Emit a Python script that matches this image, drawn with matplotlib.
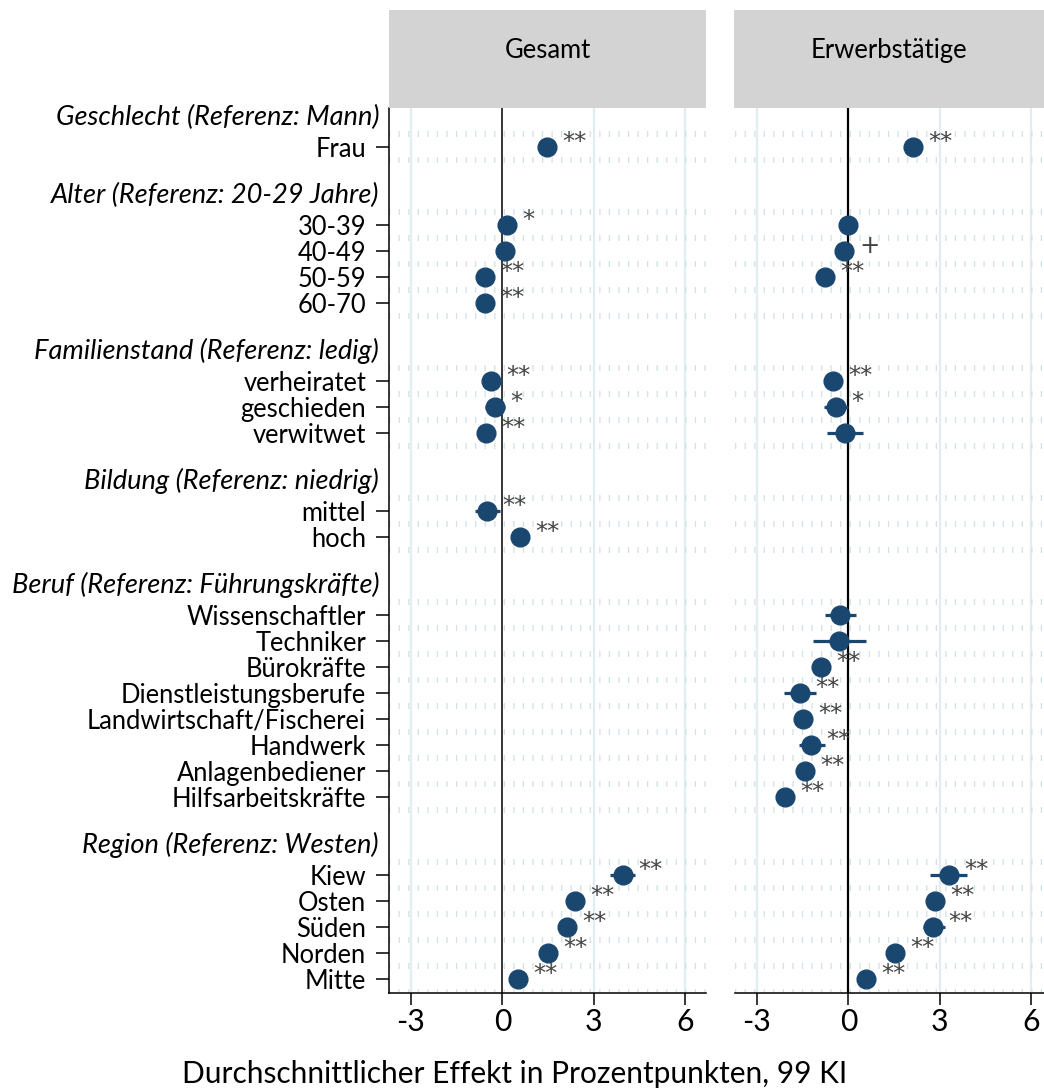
import numpy as np
import matplotlib
matplotlib.use("Agg")
import matplotlib.pyplot as plt
from matplotlib.patches import Rectangle
import matplotlib.transforms as mtransforms

plt.rcParams['font.family'] = ['Lato', 'DejaVu Sans']
plt.rcParams['axes.unicode_minus'] = False

nan = np.nan

# ---------------- data ----------------
panel_titles = ["Gesamt", "Erwerbstätige"]
xlabel = "Durchschnittlicher Effekt in Prozentpunkten, 99 KI"
xticks = [-3, 0, 3, 6]

group_headers = ["Geschlecht (Referenz: Mann)",
                 "Alter (Referenz: 20-29 Jahre)",
                 "Familienstand (Referenz: ledig)",
                 "Bildung (Referenz: niedrig)",
                 "Beruf (Referenz: Führungskräfte)",
                 "Region (Referenz: Westen)"]
group_items = [["Frau"],
               ["30-39", "40-49", "50-59", "60-70"],
               ["verheiratet", "geschieden", "verwitwet"],
               ["mittel", "hoch"],
               ["Wissenschaftler", "Techniker", "Bürokräfte", "Dienstleistungsberufe",
                "Landwirtschaft/Fischerei", "Handwerk", "Anlagenbediener", "Hilfsarbeitskräfte"],
               ["Kiew", "Osten", "Süden", "Norden", "Mitte"]]

gesamt_est = [1.46, 0.15, 0.07, -0.56, -0.56, -0.38, -0.26, -0.55, -0.50, 0.58,
              nan, nan, nan, nan, nan, nan, nan, nan,
              3.95, 2.38, 2.13, 1.49, 0.51]
gesamt_lo = [1.25, -0.10, -0.15, -0.80, -0.80, -0.60, -0.58, -0.80, -0.91, 0.35,
             nan, nan, nan, nan, nan, nan, nan, nan,
             3.54, 2.15, 1.90, 1.27, 0.28]
gesamt_hi = [1.67, 0.40, 0.29, -0.32, -0.32, -0.16, 0.07, -0.30, -0.09, 0.81,
             nan, nan, nan, nan, nan, nan, nan, nan,
             4.36, 2.61, 2.36, 1.71, 0.74]
gesamt_sig = ["**", "*", "", "**", "**", "**", "*", "**", "**", "**",
              "", "", "", "", "", "", "", "",
              "**", "**", "**", "**", "**"]

erwerb_est = [2.11, 0.00, -0.15, -0.77, nan, -0.52, -0.40, -0.11, nan, nan,
              -0.27, -0.31, -0.89, -1.59, -1.50, -1.22, -1.43, -2.07,
              3.29, 2.83, 2.76, 1.51, 0.58]
erwerb_lo = [1.88, -0.22, -0.40, -1.00, nan, -0.75, -0.79, -0.70, nan, nan,
             -0.76, -1.16, -1.12, -2.10, -1.75, -1.63, -1.68, -2.30,
             2.68, 2.60, 2.43, 1.28, 0.35]
erwerb_hi = [2.34, 0.22, 0.10, -0.54, nan, -0.29, 0.00, 0.49, nan, nan,
             0.25, 0.56, -0.66, -1.08, -1.25, -0.78, -1.18, -1.84,
             3.89, 3.06, 3.15, 1.74, 0.81]
erwerb_sig = ["**", "", "+", "**", "", "**", "*", "", "", "",
              "", "", "**", "**", "**", "**", "**", "**",
              "**", "**", "**", "**", "**"]

# ---------------- layout ----------------
W, H = 1044, 1090
fig = plt.figure(figsize=(W / 100, H / 100), dpi=100)
renderer = fig.canvas.get_renderer()


def fit(text, target, style='normal', family=None):
    kw = {} if family is None else {'family': family}
    t = fig.text(0, 0, text, fontsize=20, style=style, **kw)
    w = t.get_window_extent(renderer).width
    t.remove()
    return 20 * target / w


fs_item = fit("Dienstleistungsberufe", 247)
fs_head = fit("Beruf (Referenz: Führungskräfte)", 368, 'italic')
fs_title = fit(xlabel, 667)
fs_panel = fit("Erwerbstätige", 157)
star_family = ['DejaVu Sans']
fs_star = fit("**", 24, family=star_family)
fs_tick = fs_item * 1.18

# row positions
labels, rows, header_rows = [], [], []
r = 1
for hdr, items in zip(group_headers, group_items):
    header_rows.append(r - 1.15)
    for it in items:
        labels.append(it)
        rows.append(r)
        r += 1
    r += 2
rows = np.array(rows, dtype=float)

ax_top, ax_bot = 108, 993
ylim = (33.55, -0.5)
navy = '#1a476f'
grid_v = '#e3edf0'
grid_h = '#d3e2e6'

panels = [
    dict(x0=389, x1=706, xlim=(-3.72, -3.72 + 317 / 30.5),
         est=gesamt_est, lo=gesamt_lo, hi=gesamt_hi, sig=gesamt_sig,
         box=(389, 706)),
    dict(x0=735, x1=1044, xlim=(-3.72, -3.72 + 309 / 30.5),
         est=erwerb_est, lo=erwerb_lo, hi=erwerb_hi, sig=erwerb_sig,
         box=(734, 1044)),
]

axes = []
for i, p in enumerate(panels):
    ax = fig.add_axes([p['x0'] / W, 1 - ax_bot / H, (p['x1'] - p['x0']) / W,
                       (ax_bot - ax_top) / H])
    axes.append(ax)
    ax.set_xlim(*p['xlim'])
    ax.set_ylim(*ylim)
    ax.set_facecolor('white')

    # grid
    for gx in [-3, 3, 6]:
        ax.axvline(gx, color=grid_v, lw=1.6, zorder=0)
    hl = sorted(set(list(rows - 0.5) + list(rows + 0.5)))
    for gy in hl:
        ax.axhline(gy, color=grid_h, lw=4.3, linestyle=(0, (0.22, 1.38)),
                   zorder=0.5)
    ax.axvline(0, color='black', lw=1.1 if i == 0 else 1.6, zorder=1)

    est = np.array(p['est'], dtype=float)
    lo = np.array(p['lo'], dtype=float)
    hi = np.array(p['hi'], dtype=float)
    ok = ~np.isnan(est)
    ax.hlines(rows[ok], lo[ok], hi[ok], color=navy, lw=2.3, zorder=2)
    ax.plot(est[ok], rows[ok], 'o', ms=13.5, color=navy, mec=navy, zorder=3)
    for e, y, s in zip(est, rows, p['sig']):
        if s and not np.isnan(e):
            ax.annotate(s, (e, y), xytext=(11, 3.5), textcoords='offset points',
                        ha='left', va='center', fontsize=fs_star, color='#444444',
                        family=star_family, zorder=4)

    ax.set_xticks(xticks)
    ax.set_xticklabels([str(t) for t in xticks])
    ax.tick_params(axis='x', length=8.6, width=1.1, pad=2, labelsize=fs_tick,
                   colors='black')
    ax.set_yticks(rows)
    for sp in ['top', 'right']:
        ax.spines[sp].set_visible(False)
    ax.spines['bottom'].set_linewidth(1.1)
    if i == 0:
        ax.set_yticklabels(labels)
        ax.tick_params(axis='y', length=9.4, width=1.1, pad=7, labelsize=fs_item)
        ax.spines['left'].set_linewidth(1.1)
    else:
        ax.spines['left'].set_visible(False)
        ax.tick_params(axis='y', left=False, labelleft=False)

    # panel header box
    bx0, bx1 = p['box']
    fig.patches.append(Rectangle((bx0 / W, 1 - 108 / H), (bx1 - bx0) / W, 98 / H,
                                 transform=fig.transFigure, facecolor='#d3d3d3',
                                 edgecolor='none', zorder=0))
    fig.text((bx0 + bx1) / 2 / W, 1 - 58 / H, panel_titles[i], ha='center',
             va='baseline', fontsize=fs_panel, color='black')

# group headers (italic), right aligned left of the axis
trans = mtransforms.blended_transform_factory(fig.transFigure, axes[0].transData)
for hdr, hy in zip(group_headers, header_rows):
    fig.text(379 / W, hy, hdr, transform=trans, ha='right', va='center',
             style='italic', fontsize=fs_head, color='black')

fig.text(515 / W, 1 - 1083 / H, xlabel, ha='center', va='baseline',
         fontsize=fs_title, color='black')

fig.savefig("out.png", dpi=100, facecolor='white')
